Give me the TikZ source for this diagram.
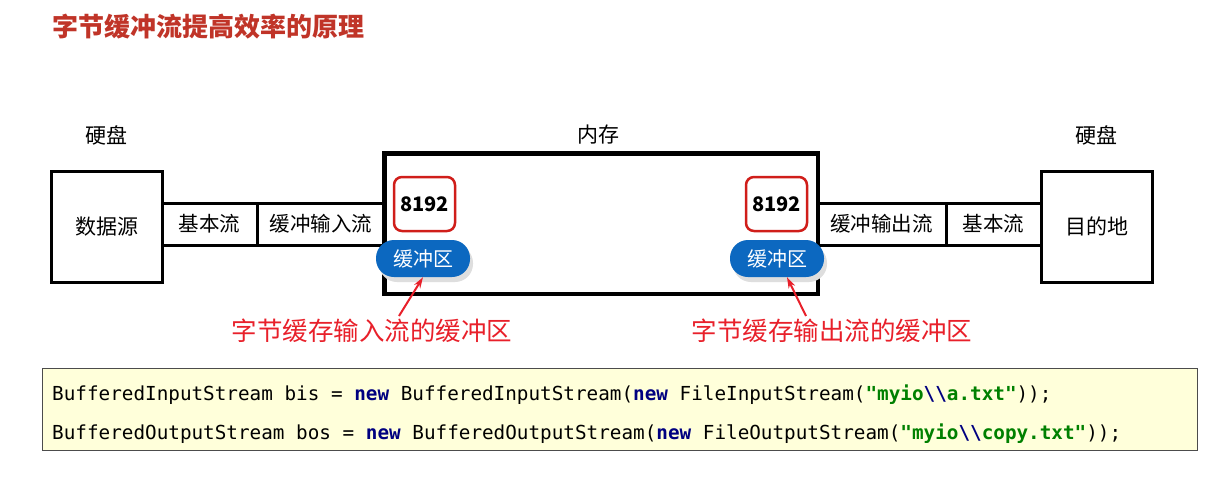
\documentclass[tikz,border=0pt]{standalone}
\usepackage{fontspec}
\setmainfont{Noto Sans CJK SC}
\newfontfamily\cjk{Noto Sans CJK SC}
\newfontfamily\codefont{DejaVu Sans Mono}
\usetikzlibrary{arrows.meta,shadows}
\definecolor{titlered}{RGB}{192,52,40}
\definecolor{labelred}{RGB}{232,32,42}
\definecolor{boxred}{RGB}{208,30,26}
\definecolor{pillblue}{RGB}{12,104,192}
\definecolor{codebg}{RGB}{255,255,218}
\definecolor{kwblue}{RGB}{0,0,128}
\definecolor{strgreen}{RGB}{0,128,0}
\tikzset{
  blackbox/.style={draw=black, line width=3pt, fill=white, inner sep=0pt},
  cell/.style={draw=black, line width=3pt, fill=white, inner sep=0pt, minimum height=42pt, font=\cjk\fontsize{20.5}{20.5}\selectfont},
  numbox/.style={draw=boxred, line width=2.5pt, rounded corners=8pt, minimum width=61pt, minimum height=54pt, inner sep=0pt, font=\cjk\bfseries\fontsize{20}{20}\selectfont},
  pill/.style={fill=pillblue, text=white, rounded corners=18pt, minimum width=94pt, minimum height=37pt, inner sep=0pt, font=\cjk\fontsize{20}{20}\selectfont,
    drop shadow={shadow xshift=3pt, shadow yshift=-5pt, fill=black!13, opacity=1}},
  redlabel/.style={text=labelred, inner sep=0pt, font=\cjk\fontsize{25.5}{25.5}\selectfont},
  redarrow/.style={draw=labelred, line width=2pt, -{Stealth[length=11pt,width=7pt]}},
  heading/.style={inner sep=0pt, font=\cjk\fontsize{21}{21}\selectfont},
  codeline/.style={inner sep=0pt, anchor=west, font=\codefont\fontsize{19.3}{19.3}\selectfont},
}
\newcommand{\kw}[1]{{\bfseries\color{kwblue}#1}}
\newcommand{\str}[1]{{\bfseries\color{strgreen}#1}}
\begin{document}
\begin{tikzpicture}[x=1pt,y=-1pt]
\useasboundingbox (0,0) rectangle (1223,493);
% title
\node[text=titlered, anchor=west, inner sep=0pt, font=\cjk\bfseries\fontsize{26}{26}\selectfont] (title) at (52,27) {字节缓冲流提高效率的原理};
% headings
\node[heading] (hd1) at (106,135) {硬盘};
\node[heading] (hd2) at (598,135) {内存};
\node[heading] (hd3) at (1096,135) {硬盘};
% memory box
\node[blackbox, minimum width=432pt, minimum height=139pt] (mem) at (601,223.5) {};
% left side
\node[blackbox, minimum width=111pt, minimum height=111pt, font=\cjk\fontsize{21}{21}\selectfont] (src) at (106.5,226.5) {数据源};
\node[cell, minimum width=95pt] (basein) at (209.5,224) {基本流};
\node[cell, minimum width=128pt] (bufin) at (321,224) {缓冲输入流};
% right side
\node[cell, minimum width=129pt] (bufout) at (881.5,224) {缓冲输出流};
\node[cell, minimum width=95pt] (baseout) at (993.5,224) {基本流};
\node[blackbox, minimum width=111pt, minimum height=111pt, font=\cjk\fontsize{21}{21}\selectfont] (dst) at (1096.5,226.5) {目的地};
% redraw memory outline on top of cells
\draw[line width=3pt] (mem.north west) rectangle (mem.south east);
% buffers
\node[numbox] (num1) at (424.5,204) {8192};
\node[numbox] (num2) at (776.5,204) {8192};
\node[pill] (buf1) at (423,258.5) {缓冲区};
\node[pill] (buf2) at (777,258.5) {缓冲区};
% labels
\node[redlabel] (lab1) at (372,331) {字节缓存输入流的缓冲区};
\node[redlabel] (lab2) at (832,331) {字节缓存输出流的缓冲区};
\coordinate (t1) at (399,316);
\coordinate (t2) at (806,316);
\draw[redarrow] (t1) -- (buf1.south);
\draw[redarrow] (t2) -- ([xshift=10pt]buf2.south);
% code box
\node[draw=black!70, line width=1pt, fill=codebg, minimum width=1155pt, minimum height=82pt, inner sep=0pt] (code) at (619.5,409) {};
\node[codeline] (c1) at (52,395) {BufferedInputStream bis = \kw{new} BufferedInputStream(\kw{new} FileInputStream(\str{"myio}\kw{\textbackslash\textbackslash}\str{a.txt"}));};
\node[codeline] (c2) at (52,434) {BufferedOutputStream bos = \kw{new} BufferedOutputStream(\kw{new} FileOutputStream(\str{"myio}\kw{\textbackslash\textbackslash}\str{copy.txt"}));};
\end{tikzpicture}
\end{document}
